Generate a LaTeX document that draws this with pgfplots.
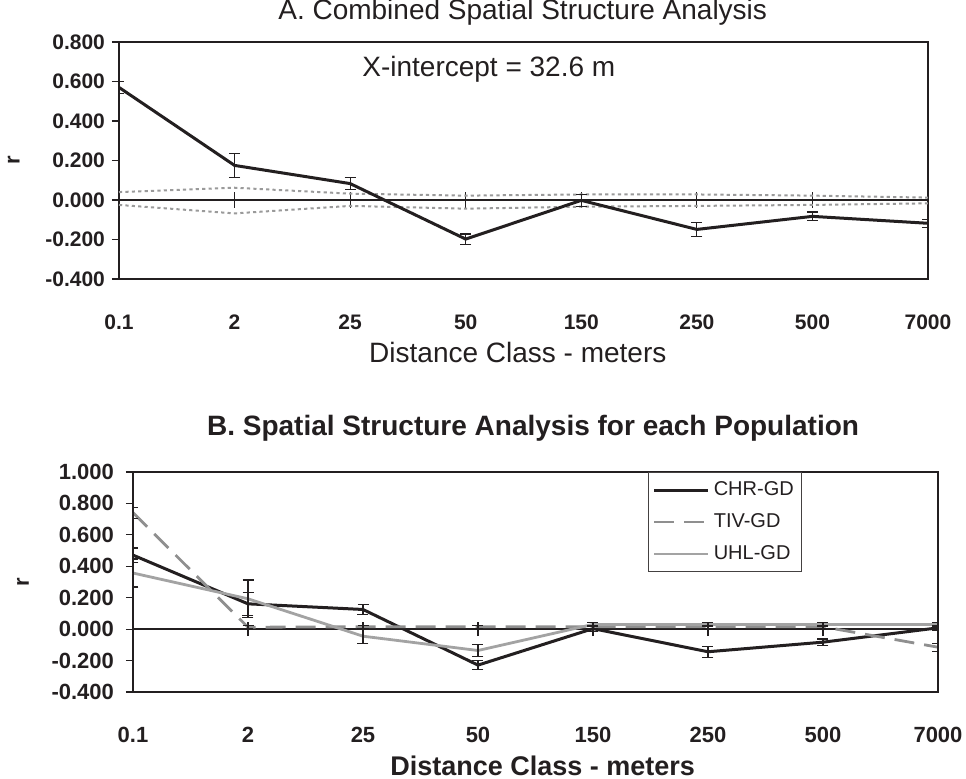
\documentclass[border=0pt]{standalone}
\usepackage{fontspec}
\setmainfont{Liberation Sans}
\usepackage{pgfplots}
\pgfplotsset{compat=1.18}
\usepackage{pgfplotstable}

\definecolor{ink}{HTML}{231F20}
\definecolor{tivgray}{HTML}{8F8F8F}
\definecolor{uhlgray}{HTML}{A3A3A3}
\definecolor{cigray}{HTML}{9A9A9A}

% combined: r with error, upper/lower confidence limits
\pgfplotstableread{
x r err up lo
0 0.570 0.030 0.040 -0.025
1 0.175 0.060 0.062 -0.068
2 0.083 0.030 0.032 -0.030
3 -0.198 0.026 0.022 -0.044
4 -0.002 0.030 0.028 -0.034
5 -0.149 0.036 0.028 -0.030
6 -0.083 0.022 0.022 -0.025
7 -0.118 0.021 0.012 -0.017
}\combined

% each population
\pgfplotstableread{
x chr chre tiv tive uhl uhle
0 0.471 0.045 0.741 0.035 0.357 0.089
1 0.161 0.074 0.012 0.010 0.193 0.120
2 0.125 0.030 0.015 0.010 -0.045 0.046
3 -0.229 0.030 0.015 0.010 -0.136 0.040
4 0.003 0.020 0.015 0.010 0.030 0.010
5 -0.144 0.035 0.015 0.010 0.030 0.010
6 -0.083 0.020 0.015 0.010 0.030 0.010
7 0.008 0.015 -0.115 0.025 0.030 0.010
}\pops

\pgfplotsset{
  panel/.style={
    scale only axis, xmin=0, xmax=7,
    xtick={0,...,7},
    xticklabels={0.1,2,25,50,150,250,500,7000},
    axis line style={ink, line width=0.6pt},
    xtick style={draw=none},
    ytick pos=left, tick align=outside,
    ytick style={ink, line width=0.6pt},
    major tick length=3.5pt,
    xticklabel style={font=\bfseries\fontsize{10.5}{12}\selectfont, text=ink, yshift=-11pt},
    yticklabel style={font=\bfseries\fontsize{10.5}{12}\selectfont, text=ink},
  },
  zeroline/.style={
    scale only axis, xmin=0, xmax=7,
    axis x line=middle, axis y line=none,
    x axis line style={-, ink, line width=0.7pt},
    every inner x axis line/.append style={-},
    xtick={0,...,7}, xticklabels={}, ytick=\empty,
    tick align=center, major tick length=8pt,
    xtick style={ink, line width=0.6pt},
  },
  errs/.style={
    error bars/.cd, y dir=both, y explicit,
    error bar style={ink, line width=0.6pt},
    error mark options={ink, rotate=90, mark size=2.75pt, line width=0.6pt},
  },
}

\begin{document}
\begin{tikzpicture}
\path[use as bounding box] (0,0) rectangle (483pt,389.5pt);

% ---- A ----
\begin{axis}[zeroline, at={(59.5pt,250pt)}, anchor=south west,
  width=404.5pt, height=118.5pt, ymin=-0.4, ymax=0.8]
\end{axis}

\begin{axis}[panel, at={(59.5pt,250pt)}, anchor=south west,
  width=404.5pt, height=118.5pt,
  ymin=-0.4, ymax=0.8,
  ytick={-0.4,-0.2,0,0.2,0.4,0.6,0.8},
  yticklabels={-0.400,-0.200,0.000,0.200,0.400,0.600,0.800},
  title={A. Combined Spatial Structure Analysis},
  title style={font=\fontsize{14}{16}\selectfont, text=ink, anchor=center, yshift=-6pt,
    at={(axis description cs:0.499,1.127)}},
  xlabel={Distance Class - meters},
  xlabel style={font=\fontsize{14}{16}\selectfont, text=ink, anchor=center,
    at={(axis description cs:0.493,-0.312)}},
  ylabel={r},
  ylabel style={font=\bfseries\fontsize{11}{13}\selectfont, text=ink, anchor=center,
    at={(axis description cs:-0.13,0.5)}},
]
\addplot[cigray, line width=1pt, dash pattern=on 1.6pt off 1.6pt] table[x=x, y=up] {\combined};
\addplot[cigray, line width=1pt, dash pattern=on 1.6pt off 1.6pt] table[x=x, y=lo] {\combined};
\addplot[ink, line width=1.5pt, errs] table[x=x, y=r, y error=err] {\combined};
\node[font=\fontsize{14}{16}\selectfont, text=ink] at (axis cs:3.2,0.66) {X-intercept = 32.6 m};
\end{axis}

% ---- B ----
\begin{axis}[zeroline, at={(66.5pt,43.5pt)}, anchor=south west,
  width=402.5pt, height=110pt, ymin=-0.4, ymax=1.0, major tick length=7pt]
\end{axis}

\begin{axis}[panel, at={(66.5pt,43.5pt)}, anchor=south west,
  width=402.5pt, height=110pt,
  ymin=-0.4, ymax=1.0,
  ytick={-0.4,-0.2,0,0.2,0.4,0.6,0.8,1.0},
  yticklabels={-0.400,-0.200,0.000,0.200,0.400,0.600,0.800,1.000},
  xticklabel style={font=\bfseries\fontsize{11}{13}\selectfont, yshift=0.5pt},
  yticklabel style={font=\bfseries\fontsize{11}{13}\selectfont, xshift=-2.5pt},
  title={B. Spatial Structure Analysis for each Population},
  title style={font=\bfseries\fontsize{14}{16}\selectfont, text=ink, anchor=center, yshift=-6pt,
    at={(axis description cs:0.497,1.2)}},
  xlabel={Distance Class - meters},
  xlabel style={font=\bfseries\fontsize{13.5}{16}\selectfont, text=ink, anchor=center,
    at={(axis description cs:0.509,-0.336)}},
  ylabel={r},
  ylabel style={font=\bfseries\fontsize{11}{13}\selectfont, text=ink, anchor=center,
    at={(axis description cs:-0.1366,0.5)}},
  legend cell align=left,
  legend image code/.code={\draw[#1] (0pt,0pt) -- (27pt,0pt);},
  legend style={at={(axis description cs:0.64,1)}, anchor=north west,
    draw=ink!85, line width=0.6pt, font=\fontsize{10}{12}\selectfont,
    text=ink, inner xsep=2pt, inner ysep=2.5pt, row sep=3.5pt},
]
\addplot[ink, line width=1.5pt, errs] table[x=x, y=chr, y error=chre] {\pops};
\addlegendentry{CHR-GD}
\addplot[tivgray, line width=1.4pt, dash pattern=on 10pt off 5pt, errs] table[x=x, y=tiv, y error=tive] {\pops};
\addlegendentry{TIV-GD}
\addplot[uhlgray, line width=1.4pt, errs] table[x=x, y=uhl, y error=uhle] {\pops};
\addlegendentry{UHL-GD}
\end{axis}
\end{tikzpicture}
\end{document}
